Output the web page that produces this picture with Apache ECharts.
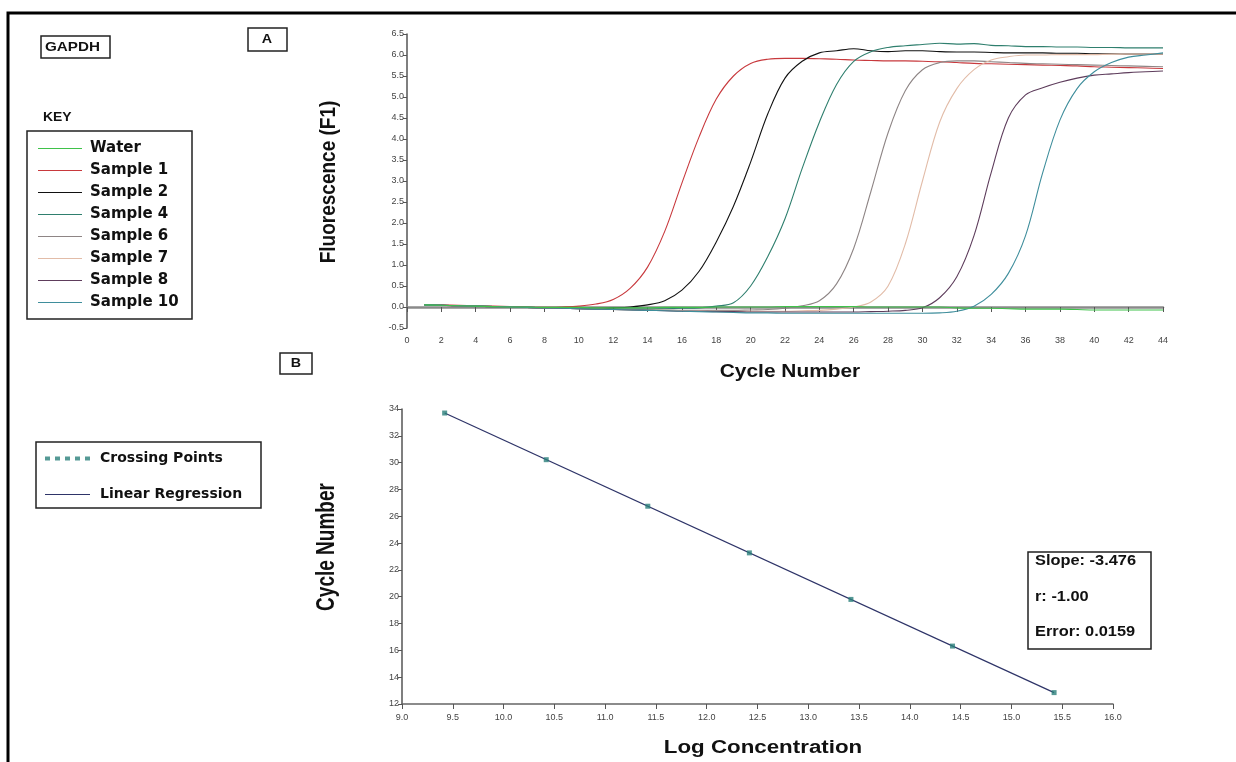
<!DOCTYPE html>
<html>
<head>
<meta charset="utf-8">
<title>GAPDH</title>
<script src="https://cdn.jsdelivr.net/npm/echarts@6/dist/echarts.min.js"></script>
<style>
  html, body { margin: 0; padding: 0; background: #fff; }
  #chart { width: 1236px; height: 762px; }
</style>
</head>
<body>
<div id="chart"></div>
<script>
// A: amplification curves, fluorescence per cycle
var cycles = [1,2,3,4,5,6,7,8,9,10,11,12,13,14,15,16,17,18,19,20,21,22,23,24,25,26,27,28,29,30,31,32,33,34,35,36,37,38,39,40,41,42,43,44];
var water = [0.05,0.04,0.03,0.02,0.01,0.0,0.0,-0.01,-0.01,-0.01,-0.02,-0.02,-0.02,-0.02,-0.01,-0.01,-0.01,0.0,0.0,0.0,0.0,0.01,0.01,0.01,0.01,0.01,0.0,0.0,0.0,0.0,0.0,-0.02,-0.03,-0.03,-0.04,-0.05,-0.05,-0.05,-0.06,-0.07,-0.07,-0.07,-0.07,-0.07];
var sample1 = [0.06,0.05,0.04,0.03,0.02,0.01,0.0,-0.01,0.0,0.02,0.07,0.18,0.45,0.95,1.8,2.95,4.05,4.95,5.5,5.8,5.9,5.92,5.92,5.91,5.9,5.88,5.87,5.86,5.86,5.85,5.84,5.82,5.8,5.79,5.78,5.77,5.76,5.75,5.74,5.72,5.71,5.7,5.69,5.68];
var sample2 = [0.06,0.04,0.03,0.02,0.01,0.0,-0.01,-0.02,-0.03,-0.03,-0.03,-0.02,0.0,0.05,0.15,0.4,0.85,1.55,2.4,3.45,4.6,5.45,5.85,6.05,6.1,6.15,6.1,6.08,6.1,6.1,6.08,6.07,6.07,6.06,6.05,6.05,6.05,6.04,6.04,6.03,6.03,6.02,6.02,6.02];
var sample4 = [0.05,0.04,0.03,0.02,0.01,0.0,-0.01,-0.02,-0.03,-0.04,-0.05,-0.05,-0.05,-0.05,-0.04,-0.03,-0.02,0.02,0.1,0.5,1.2,2.1,3.3,4.4,5.3,5.85,6.08,6.18,6.22,6.25,6.28,6.26,6.27,6.23,6.22,6.2,6.2,6.19,6.19,6.18,6.18,6.17,6.17,6.17];
var sample6 = [0.05,0.04,0.03,0.02,0.01,0.0,-0.01,-0.02,-0.03,-0.04,-0.05,-0.06,-0.06,-0.07,-0.07,-0.08,-0.08,-0.08,-0.08,-0.07,-0.06,-0.03,0.03,0.15,0.55,1.4,2.75,4.15,5.15,5.65,5.82,5.86,5.86,5.84,5.82,5.8,5.79,5.78,5.77,5.76,5.75,5.74,5.73,5.72];
var sample7 = [0.05,0.04,0.03,0.02,0.01,0.0,-0.01,-0.02,-0.03,-0.04,-0.05,-0.06,-0.07,-0.08,-0.08,-0.09,-0.09,-0.1,-0.1,-0.1,-0.1,-0.1,-0.09,-0.08,-0.05,0.0,0.12,0.5,1.5,3.0,4.4,5.2,5.65,5.88,5.96,6.0,6.0,6.01,6.01,6.01,6.02,6.02,6.02,6.02];
var sample8 = [0.05,0.04,0.03,0.02,0.01,0.0,-0.01,-0.02,-0.03,-0.04,-0.05,-0.06,-0.07,-0.08,-0.09,-0.1,-0.1,-0.11,-0.11,-0.12,-0.12,-0.12,-0.12,-0.12,-0.12,-0.12,-0.11,-0.1,-0.08,-0.02,0.22,0.72,1.7,3.2,4.5,5.05,5.22,5.35,5.45,5.52,5.55,5.58,5.6,5.62];
var sample10 = [0.05,0.04,0.03,0.02,0.01,0.0,-0.01,-0.02,-0.03,-0.04,-0.05,-0.06,-0.07,-0.08,-0.09,-0.1,-0.11,-0.12,-0.13,-0.14,-0.14,-0.15,-0.15,-0.15,-0.15,-0.15,-0.15,-0.15,-0.15,-0.15,-0.14,-0.1,0.02,0.3,0.8,1.7,3.2,4.45,5.2,5.6,5.82,5.95,6.0,6.05];
var curveNames = ['Water','Sample 1','Sample 2','Sample 4','Sample 6','Sample 7','Sample 8','Sample 10'];
var curveColors = ['#3fc24a','#c8393d','#111111','#2f7f6e','#8e8585','#e2bca8','#5e3d5c','#3f8e9c'];

// B: standard curve
var logConc = [9.42,10.42,11.42,12.42,13.42,14.42,15.42];
var crossing = [33.70,30.22,26.75,23.27,19.80,16.32,12.85];
var regX = [9.42,15.42];
var regY = [33.70,12.85];
var stats = ['Slope: -3.476','r: -1.00','Error: 0.0159'];

var FONT = 'Liberation Sans, Arial, sans-serif';
var KEYFONT = 'DejaVu Sans, Liberation Sans, sans-serif';

function pairs(xs, ys) {
  return xs.map(function (x, i) { return [x, ys[i]]; });
}

// bold label, stretched a bit wider like the scanned figure
function label(txt, x, y, size, sx, align) {
  return {
    type: 'text', x: x, y: y, scaleX: sx || 1,
    style: { text: txt, font: 'bold ' + size + 'px ' + FONT, fill: '#111', align: align || 'left', verticalAlign: 'middle' }
  };
}

var curveData = [water, sample1, sample2, sample4, sample6, sample7, sample8, sample10];
var series = curveData.map(function (d, i) {
  return {
    name: curveNames[i],
    type: 'line',
    xAxisIndex: 0,
    yAxisIndex: 0,
    data: pairs(cycles, d),
    showSymbol: false,
    smooth: 0.35,
    lineStyle: { width: 1.1, color: curveColors[i] },
    itemStyle: { color: curveColors[i] },
    z: i === 0 ? 3 : 2
  };
});
series.push({
  name: 'Linear Regression',
  type: 'line',
  xAxisIndex: 1,
  yAxisIndex: 1,
  data: pairs(regX, regY),
  showSymbol: false,
  lineStyle: { width: 1.2, color: '#2e3468' },
  itemStyle: { color: '#2e3468' }
});
series.push({
  name: 'Crossing Points',
  type: 'scatter',
  xAxisIndex: 1,
  yAxisIndex: 1,
  data: pairs(logConc, crossing),
  symbol: 'rect',
  symbolSize: 5,
  itemStyle: { color: '#2a7f7a' },
  z: 5
});

var tickLabel = { fontFamily: FONT, fontSize: 9, color: '#444' };

var option = {
  backgroundColor: '#fff',
  animation: false,
  grid: [
    { left: 407, top: 34, width: 756, height: 294 },
    { left: 402, top: 409, width: 711, height: 295 }
  ],
  xAxis: [
    {
      gridIndex: 0, type: 'value', min: 0, max: 44, interval: 2,
      axisLine: { lineStyle: { color: '#8a8a8a', width: 2.5 } },
      axisTick: { length: 5, lineStyle: { color: '#555' } },
      axisLabel: Object.assign({ margin: 8 }, tickLabel),
      splitLine: { show: false }
    },
    {
      gridIndex: 1, type: 'value', min: 9, max: 16, interval: 0.5,
      axisLine: { lineStyle: { color: '#666', width: 1.5 } },
      axisTick: { length: 5, lineStyle: { color: '#555' } },
      axisLabel: Object.assign({ margin: 9, formatter: function (v) { return v.toFixed(1); } }, tickLabel),
      splitLine: { show: false }
    }
  ],
  yAxis: [
    {
      gridIndex: 0, type: 'value', min: -0.5, max: 6.5, interval: 0.5,
      axisLine: { lineStyle: { color: '#555', width: 1.5 } },
      axisTick: { length: 4, lineStyle: { color: '#555' } },
      axisLabel: Object.assign({ margin: 3, formatter: function (v) { return v.toFixed(1); } }, tickLabel),
      splitLine: { show: false }
    },
    {
      gridIndex: 1, type: 'value', min: 12, max: 34, interval: 2,
      axisLine: { lineStyle: { color: '#555', width: 1.5 } },
      axisTick: { length: 4, lineStyle: { color: '#555' } },
      axisLabel: Object.assign({ margin: 3 }, tickLabel),
      splitLine: { show: false }
    }
  ],
  legend: [
    {
      data: curveNames,
      orient: 'vertical',
      left: 33, top: 136,
      icon: 'rect', itemWidth: 44, itemHeight: 1.2, itemGap: 7,
      textStyle: { fontFamily: KEYFONT, fontSize: 15, fontWeight: 'bold', color: '#111', lineHeight: 15, padding: [0, 0, 0, 3] },
      selectedMode: false
    },
    {
      data: [
        { name: 'Crossing Points', icon: 'path://M0,0h5v4h-5z M10,0h5v4h-5z M20,0h5v4h-5z M30,0h5v4h-5z M40,0h5v4h-5z' },
        { name: 'Linear Regression', icon: 'path://M0,0h45v0.02h-45z M0,1.5h45v1h-45z M0,3.98h45v0.02h-45z' }
      ],
      orient: 'vertical',
      left: 40, top: 446,
      itemWidth: 45, itemHeight: 4, itemGap: 21,
      textStyle: { fontFamily: KEYFONT, fontSize: 14, fontWeight: 'bold', color: '#111', lineHeight: 15, padding: [0, 0, 0, 5] },
      selectedMode: false
    }
  ],
  graphic: [
    // page frame
    { type: 'rect', shape: { x: 8, y: 13, width: 1240, height: 760 }, style: { fill: 'none', stroke: '#000', lineWidth: 3 } },
    { type: 'rect', shape: { x: 41, y: 36, width: 69, height: 22 }, style: { fill: '#fff', stroke: '#222', lineWidth: 1.5 } },
    label('GAPDH', 45, 47, 13, 1.17),
    { type: 'rect', shape: { x: 248, y: 28, width: 39, height: 23 }, style: { fill: '#fff', stroke: '#222', lineWidth: 1.5 } },
    label('A', 267, 39.5, 13, 1.1, 'center'),
    { type: 'rect', shape: { x: 280, y: 353, width: 32, height: 21 }, style: { fill: '#fff', stroke: '#222', lineWidth: 1.5 } },
    label('B', 296, 363.5, 13, 1.1, 'center'),
    label('KEY', 43, 117, 13, 1.07),
    // key boxes
    { type: 'rect', z: -1, shape: { x: 27, y: 131, width: 165, height: 188 }, style: { fill: 'none', stroke: '#222', lineWidth: 1.5 } },
    { type: 'rect', z: -1, shape: { x: 36, y: 442, width: 225, height: 66 }, style: { fill: 'none', stroke: '#222', lineWidth: 1.5 } },
    // axis titles
    { type: 'text', x: 329, y: 182, rotation: Math.PI / 2, scaleY: 1.15,
      style: { text: 'Fluorescence (F1)', font: 'bold 19px ' + FONT, fill: '#111', align: 'center', verticalAlign: 'middle' } },
    { type: 'text', x: 790, y: 372, scaleX: 1.16,
      style: { text: 'Cycle Number', font: 'bold 18px ' + FONT, fill: '#111', align: 'center', verticalAlign: 'middle' } },
    { type: 'text', x: 327, y: 547, rotation: Math.PI / 2, scaleY: 1.35,
      style: { text: 'Cycle Number', font: 'bold 19px ' + FONT, fill: '#111', align: 'center', verticalAlign: 'middle' } },
    { type: 'text', x: 763, y: 748, scaleX: 1.24,
      style: { text: 'Log Concentration', font: 'bold 18px ' + FONT, fill: '#111', align: 'center', verticalAlign: 'middle' } },
    // regression stats
    { type: 'rect', shape: { x: 1028, y: 552, width: 123, height: 97 }, style: { fill: '#fff', stroke: '#222', lineWidth: 1.5 } },
    label(stats[0], 1035, 561, 14, 1.17),
    label(stats[1], 1035, 597, 14, 1.17),
    label(stats[2], 1035, 632, 14, 1.17)
  ],
  series: series
};

var chart = echarts.init(document.getElementById('chart'));
chart.setOption(option);
</script>
</body>
</html>
